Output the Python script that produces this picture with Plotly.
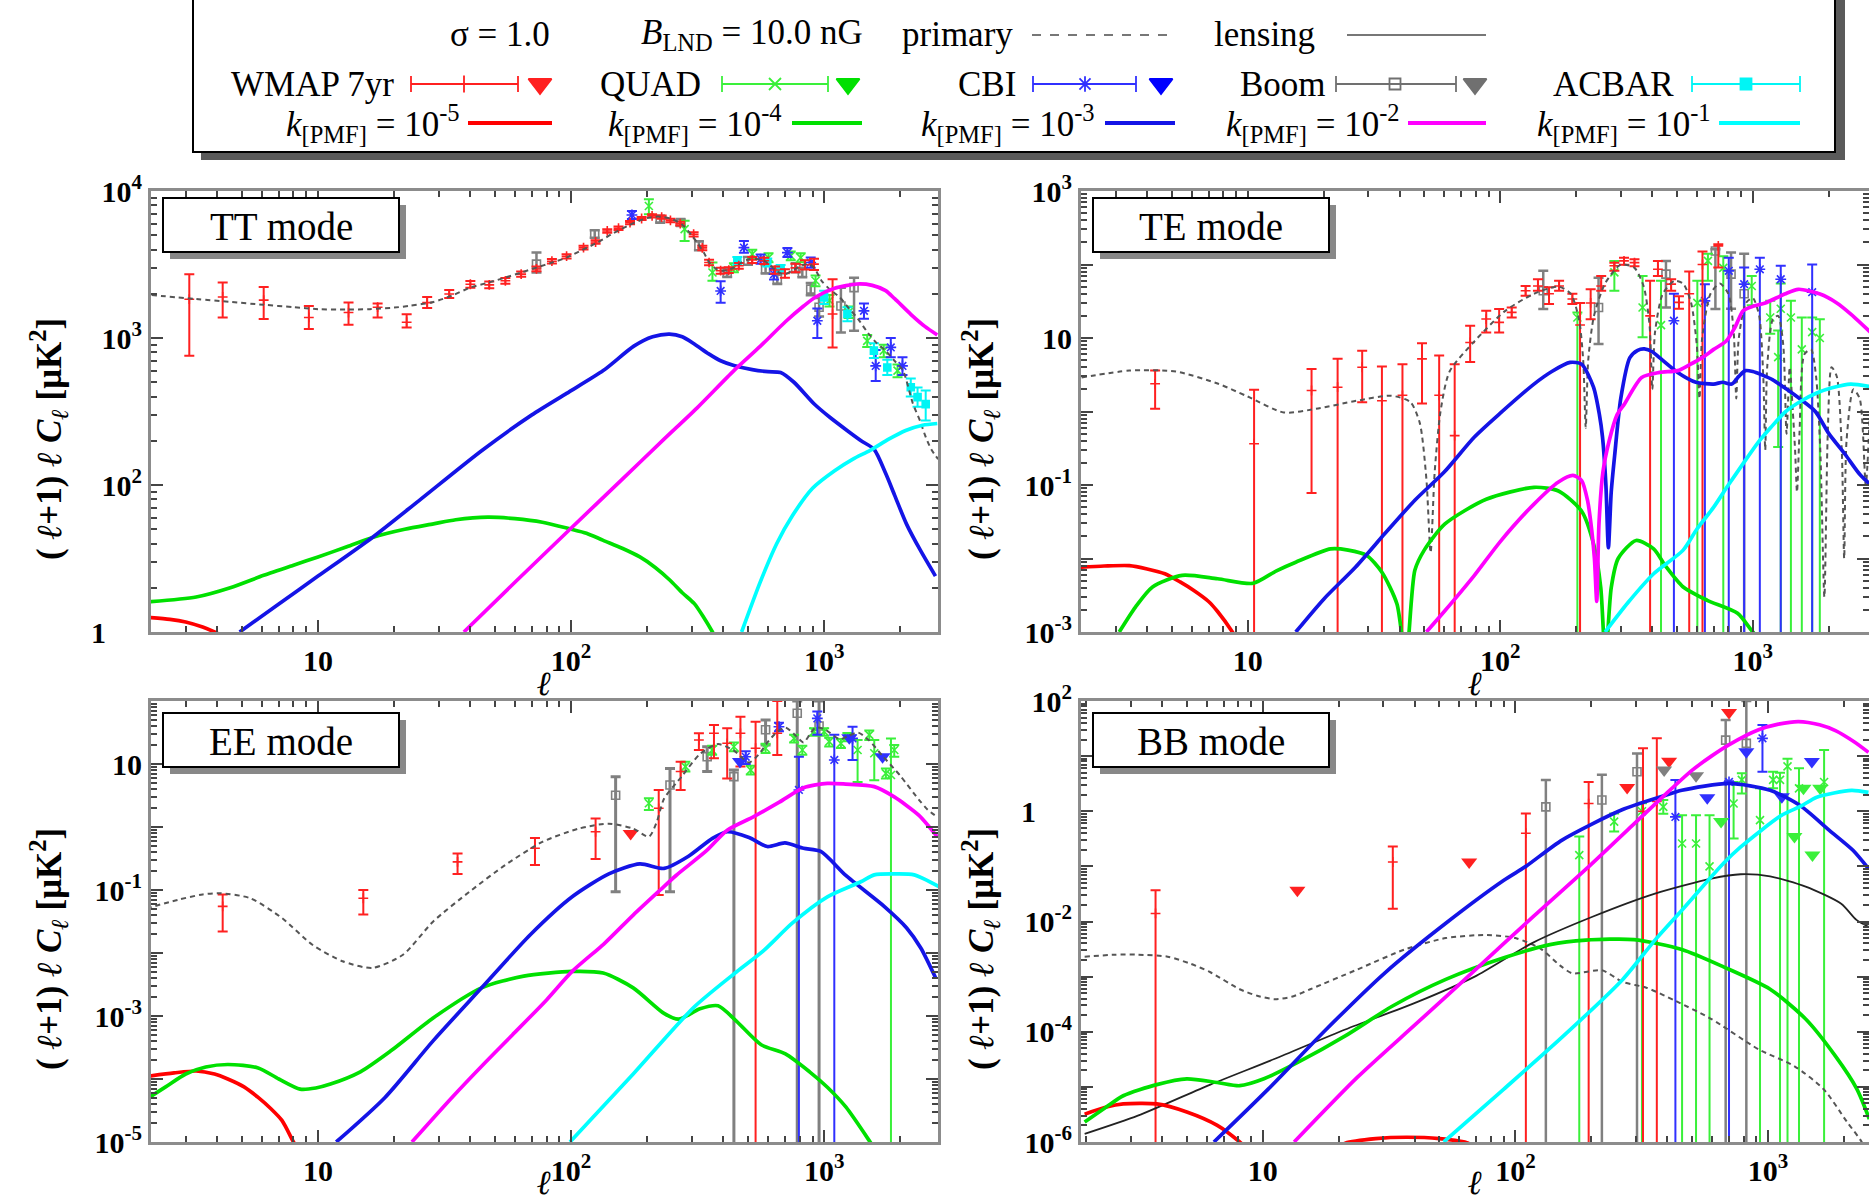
import plotly.graph_objects as go

W, H = 1869, 1201
SERIF = "Liberation Serif, Times New Roman, serif"

# ---------------------------------------------------------------- colours
C_K5, C_K4, C_K3, C_K2, C_K1 = "#ff0000", "#00e000", "#1414e6", "#ff00ff", "#00ffff"
C_WMAP, C_QUAD, C_CBI, C_BOOM, C_ACBAR = "#ff2020", "#3af03a", "#3030ff", "#808080", "#00f5f5"
C_PRIMARY, C_LENS = "#555555", "#222222"

# ================================================================ TT mode
TT_PRIMARY = [(2.2, 1960), (3.3, 1840), (4.5, 1760), (6.1, 1683), (8, 1620), (10, 1571),
              (13, 1560), (16, 1571), (20, 1610), (23, 1655), (28.6, 1760), (34, 1950),
              (40, 2205), (47, 2380), (55, 2577), (64, 2800), (73, 3013), (84, 3260),
              (96, 3523), (110, 3950), (127, 4456), (145, 5100), (167, 5780), (185, 6250),
              (203, 6590), (220, 6700), (233, 6650), (250, 6450), (275, 5900), (300, 5000),
              (315, 4456), (335, 3800), (352, 3258), (375, 2950), (394, 2863), (415, 2900),
              (440, 3013), (470, 3250), (505, 3437), (540, 3450), (580, 3350), (615, 3100),
              (647, 2863), (675, 2750), (703, 2720), (740, 2850), (785, 3013), (830, 3150),
              (876, 3180), (920, 2950), (977, 2450), (1050, 2150), (1153, 1890), (1250, 1600),
              (1361, 1350), (1480, 1100), (1607, 930), (1750, 820), (1897, 700), (2050, 600),
              (2240, 360), (2400, 270), (2500, 220), (2650, 175), (2820, 150)]
TT_K5 = [(2.1, 12.6), (2.6, 12.2), (3.0, 11.7), (3.5, 10.8), (3.9, 10), (4.4, 9.0)]
TT_K4 = [(2.1, 16), (3.3, 17.3), (4.5, 20), (6.1, 24.3), (8, 28.5), (10, 32.4), (13, 38),
         (16.4, 44), (22, 50), (28.6, 54.4), (35, 58), (46.9, 60.4), (60, 59), (77, 55.8),
         (99, 50.3), (115, 47), (134, 42), (160, 37), (187, 32.4), (215, 27.5), (246, 22.5),
         (275, 18.5), (307, 15.6), (335, 12.5), (362, 10), (380, 8.5)]
TT_K3 = [(4.9, 10), (7, 15.5), (10, 24), (16.4, 44), (25, 78), (44.3, 171), (70, 300),
         (96, 420), (134, 600), (177, 880), (210, 1020), (245, 1064), (275, 1020), (307, 910),
         (350, 780), (390, 700), (440, 650), (520, 610), (600, 590), (673, 583), (760, 500),
         (912, 357), (1050, 290), (1236, 234), (1400, 200), (1575, 175), (1750, 120),
         (1900, 85), (2119, 54), (2400, 36), (2754, 24)]
TT_K2 = [(37.7, 10), (60, 21.8), (99, 50), (158, 108), (233, 205), (315, 335), (440, 600),
         (560, 880), (703, 1290), (830, 1650), (926, 1900), (1100, 2180), (1352, 2330),
         (1550, 2280), (1750, 2100), (1900, 1850), (2200, 1450), (2500, 1200), (2800, 1050)]
TT_K1 = [(472, 10), (560, 22), (650, 40), (750, 62), (900, 95), (1100, 125), (1300, 150),
         (1520, 172), (1800, 205), (2100, 235), (2450, 255), (2800, 262)]

# (ell, value, lower, upper)
TT_WMAP = [(3.1, 1836, 757, 2716), (4.2, 1900, 1380, 2384), (6.1, 1810, 1345, 2225),
           (9.2, 1380, 1150, 1650), (13.2, 1490, 1230, 1745), (17.2, 1620, 1380, 1720),
           (22.4, 1280, 1180, 1450), (27, 1740, 1600, 1900), (33, 1990, 1870, 2120),
           (40, 2320, 2200, 2440), (47.5, 2300, 2180, 2420), (55, 2450, 2340, 2560),
           (63.5, 2720, 2610, 2830), (73, 2950, 2840, 3060), (84, 3330, 3210, 3450),
           (96, 3600, 3480, 3720), (112, 4120, 4000, 4240), (125, 4500, 4370, 4630),
           (139, 5350, 5200, 5500), (154, 5580, 5430, 5730), (171, 6100, 5950, 6250),
           (190, 6500, 6340, 6660), (209, 6770, 6600, 6940), (228, 6650, 6480, 6820),
           (247, 6310, 6140, 6480), (270, 6000, 5830, 6170), (305, 5080, 4910, 5250),
           (330, 4100, 3950, 4250), (351, 3260, 3120, 3400), (390, 2870, 2740, 3000),
           (420, 2900, 2770, 3030), (460, 3100, 2960, 3240), (520, 3400, 3240, 3560),
           (580, 3350, 3190, 3510), (640, 2900, 2740, 3060), (700, 2750, 2570, 2930),
           (770, 3000, 2800, 3200), (840, 3150, 2920, 3380), (912, 3180, 2900, 3460),
           (1080, 1455, 863, 2510)]
TT_BOOM = [(73, 3180, 2785, 3810), (124, 5100, 4800, 5400), (225, 6430, 6100, 6750),
           (271, 6100, 5800, 6400), (320, 4240, 3950, 4550), (414, 2790, 2600, 2990),
           (500, 3350, 3150, 3560), (587, 2940, 2750, 3140), (653, 2510, 2330, 2700),
           (772, 3010, 2800, 3230), (820, 2790, 2590, 3000), (885, 2150, 1950, 2370),
           (955, 1620, 1400, 1870), (1165, 1650, 1090, 2200), (1313, 2200, 1120, 2570)]
TT_QUAD = [(203, 7900, 6950, 8790), (281, 5500, 4570, 6270), (362, 2790, 2450, 3260),
           (440, 3010, 2800, 3230), (520, 3720, 3470, 3980), (603, 3520, 3280, 3770),
           (738, 3620, 3380, 3870), (808, 3520, 3280, 3770), (925, 2450, 2250, 2660),
           (1050, 1800, 1640, 1960), (1250, 1500, 1370, 1640), (1480, 955, 870, 1050),
           (1720, 820, 740, 900), (1950, 600, 540, 660)]
TT_CBI = [(174, 6870, 6450, 7300), (390, 2090, 1740, 2430), (482, 4120, 3800, 4570),
          (561, 3440, 3200, 3700), (634, 2720, 2500, 2950), (716, 3810, 3550, 4100),
          (885, 3260, 3000, 3530), (940, 1310, 1000, 1590), (1437, 1530, 1350, 1720),
          (1599, 646, 510, 830), (1834, 863, 740, 1000), (2040, 646, 560, 740)]
TT_ACBAR = [(454, 3350, 3150, 3560), (596, 3260, 3060, 3470), (673, 2940, 2750, 3140),
            (1000, 1890, 1700, 2100), (1236, 1455, 1300, 1620), (1573, 820, 730, 920),
            (1777, 630, 560, 710), (2200, 462, 400, 530), (2340, 396, 340, 460),
            (2520, 355, 275, 440)]

# ================================================================ TE mode (|C_l|)
TE_PRIMARY = [(2.2, 2.9), (3.4, 3.6), (5.2, 3.5), (7.6, 2.4), (10, 1.6), (13.9, 0.97),
              (19, 1.1), (27, 1.4), (37, 1.64), (44, 1.35), (48, 0.7), (51, 0.12),
              (53, 0.012), (55, 0.15), (58, 1.0), (63, 3.5), (79, 9), (104, 23), (136, 40),
              (170, 50), (190, 40), (205, 18), (213, 5), (218, 0.6), (223, 5), (235, 20),
              (260, 55), (300, 100), (340, 90), (370, 50), (390, 15), (400, 2), (410, 12),
              (440, 40), (490, 60), (530, 55), (570, 30), (600, 8), (615, 1.5), (630, 10),
              (680, 40), (740, 55), (800, 40), (840, 12), (860, 1.5), (880, 10), (940, 30),
              (1000, 35), (1060, 20), (1100, 3), (1120, 0.3), (1140, 4), (1200, 18),
              (1260, 20), (1320, 8), (1360, 0.5), (1400, 4), (1440, 1.0), (1470, 0.3),
              (1496, 0.08), (1530, 0.5), (1600, 6), (1700, 7), (1780, 3), (1850, 0.3),
              (1920, 0.003), (1980, 0.5), (2050, 4), (2150, 3), (2250, 0.3), (2300, 0.01),
              (2350, 0.4), (2500, 2), (2650, 1.5), (2800, 0.1), (2900, 0.8)]
TE_K5 = [(2.15, 0.0076), (2.7, 0.0079), (3.4, 0.008), (4.0, 0.0072), (4.7, 0.0062),
         (5.4, 0.0048), (6.1, 0.0037), (7.0, 0.0026), (7.6, 0.0019), (8.7, 0.001), (9.5, 0.0006)]
TE_K4 = [(3.1, 0.001), (3.6, 0.0022), (4.2, 0.0041), (5.5, 0.0059), (7.6, 0.0053),
         (10.5, 0.0046), (13, 0.0068), (15.5, 0.0089), (21.3, 0.0135), (25, 0.013),
         (29.6, 0.011), (34, 0.0065), (39, 0.0024), (42.3, 0.0004), (45.9, 0.0069),
         (50, 0.013), (60.4, 0.0295), (88, 0.064), (136, 0.093), (170, 0.083), (210, 0.044),
         (235, 0.015), (250, 0.004), (261, 0.0004), (275, 0.004), (293, 0.01), (345, 0.0176),
         (405, 0.0135), (450, 0.008), (530, 0.0041), (660, 0.0027), (870, 0.0018),
         (1000, 0.001), (1100, 0.0007)]
TE_K3 = [(15.5, 0.001), (20, 0.0028), (26.7, 0.0076), (35, 0.022), (45.9, 0.062), (60, 0.15),
         (79, 0.45), (100, 0.95), (136, 2.36), (160, 3.5), (189, 4.65), (210, 4.4),
         (234, 2.14), (247, 0.9), (254, 0.45), (262, 0.1), (268, 0.014), (275, 0.08),
         (284, 0.26), (300, 1.5), (326, 5.4), (350, 6.8), (372, 7.1), (400, 6.5), (427, 5.4),
         (504, 3.4), (595, 2.5), (700, 2.36), (760, 2.5), (825, 2.36), (880, 3.0), (935, 3.6),
         (1000, 3.5), (1075, 3.2), (1200, 2.7), (1337, 2.1), (1550, 1.45), (1768, 1.0),
         (2000, 0.5), (2322, 0.26), (2650, 0.14), (3000, 0.093)]
TE_K2 = [(51, 0.001), (60, 0.0019), (79, 0.0059), (100, 0.017), (136, 0.055), (170, 0.11),
         (194, 0.135), (210, 0.115), (222, 0.06), (230, 0.025), (236, 0.01), (241, 0.0026),
         (246, 0.03), (255, 0.15), (270, 0.4), (290, 0.9), (310, 1.26), (363, 2.9),
         (427, 3.4), (504, 3.6), (560, 4.3), (630, 5.4), (700, 7), (785, 9.1), (850, 14),
         (915, 23.5), (1000, 27), (1120, 30), (1337, 39.6), (1514, 46), (1845, 39.6),
         (2150, 30), (2450, 21), (3000, 11)]
TE_K1 = [(260, 0.001), (320, 0.0025), (405, 0.0062), (530, 0.013), (600, 0.025), (700, 0.05),
         (800, 0.1), (915, 0.195), (1050, 0.38), (1180, 0.61), (1350, 1.0), (1560, 1.4),
         (1800, 1.8), (2060, 2.1), (2440, 2.36), (3000, 2.14)]

TE_WMAP = [(4.3, 2.38, 1.09, 3.6), (10.6, 0.364, 1e-9, 1.97), (17.9, 1.93, 0.078, 3.8),
           (22.7, 2.14, 1e-9, 5.2), (28.4, 4.0, 1.34, 6.7), (34, 1.4, 1e-9, 4.1),
           (41, 1.66, 1e-9, 4.4), (49, 5.2, 1.28, 8.5), (57.3, 1.66, 1e-9, 5.8),
           (66, 0.47, 1e-9, 4.4), (76, 8.7, 4.7, 14.7), (88, 18.1, 11.9, 23.5),
           (99, 16.3, 11.9, 24.8), (111, 22.3, 19, 26), (126, 44, 37.6, 51), (141, 51, 44, 63),
           (156, 40, 29, 49), (171, 51, 44, 60), (193, 34, 29, 40), (207, 15, 1e-9, 30),
           (228, 30, 18, 46), (251, 51, 44, 70), (283, 96, 82, 106), (309, 112, 99, 124),
           (340, 106, 95, 118), (392, 20, 1e-9, 60), (421, 86, 70, 112), (475, 54, 44, 63),
           (510, 30.5, 25, 37), (560, 40, 1e-9, 80), (632, 100, 1e-9, 150),
           (730, 179, 91, 189)]
TE_BOOM = [(148, 44, 24.8, 82), (245, 26, 8.3, 66), (453, 74, 26, 112), (711, 153, 24.8, 161),
           (820, 74, 25, 146), (924, 40, 1e-9, 140)]
TE_QUAD = [(202, 19, 1e-9, 22.3), (283, 78, 44, 112), (366, 26, 10.2, 70), (433, 15, 1e-9, 60),
           (603, 30, 1e-9, 60), (664, 112, 60, 140), (764, 90, 1e-9, 130), (990, 51, 28, 70),
           (1172, 19, 11.4, 32), (1260, 5.5, 0.33, 12.6), (1290, 25, 1e-9, 55),
           (1415, 19, 1e-9, 32), (1563, 7, 1e-9, 19), (1718, 12, 1e-9, 19),
           (1842, 10, 1e-9, 18)]
TE_CBI = [(487, 17.2, 1e-9, 40), (646, 32, 1e-9, 54), (803, 82, 1e-9, 124),
          (924, 54, 1e-9, 91), (1066, 86, 1e-9, 124), (1290, 63, 1e-9, 96),
          (1718, 42, 1e-9, 100)]

# ================================================================ EE mode
EE_PRIMARY = [(2.1, 0.051), (2.8, 0.07), (3.5, 0.085), (4.1, 0.089), (5.4, 0.074),
              (7.2, 0.036), (9.5, 0.0135), (12.5, 0.0074), (16.4, 0.0058), (21.6, 0.0093),
              (28.6, 0.032), (39.7, 0.094), (55, 0.25), (77, 0.58), (107, 0.94), (141, 1.13),
              (176, 0.94), (203, 0.7), (218, 1.2), (233, 2.8), (275, 6.5), (323, 14.4),
              (381, 20.7), (440, 16.3), (505, 10.6), (550, 14), (597, 22), (650, 32), (703, 38),
              (760, 30), (829, 22), (880, 30), (925, 38), (1000, 36), (1153, 24.8), (1250, 28),
              (1361, 31.6), (1500, 24), (1700, 13.5), (2000, 6.5), (2370, 2.7), (2560, 1.9),
              (2760, 1.5)]
EE_K5 = [(2.1, 1.1e-4), (2.7, 1.25e-4), (3.3, 1.34e-4), (3.9, 1.2e-4), (4.4, 1e-4),
         (5.1, 7.5e-5), (5.8, 5.1e-5), (6.5, 3.4e-5), (7.2, 2.2e-5), (8.0, 1e-5), (8.6, 6e-6)]
EE_K4 = [(2.1, 4.8e-5), (2.5, 7.5e-5), (3.0, 1.2e-4), (3.6, 1.55e-4), (4.4, 1.7e-4),
         (5.8, 1.5e-4), (7, 1.0e-4), (8.5, 6.9e-5), (9.8, 7.2e-5), (11.2, 8.3e-5),
         (14.7, 1.3e-4), (19.4, 2.8e-4), (28.6, 9.4e-4), (44.3, 2.8e-3), (65, 4.3e-3),
         (101, 5.1e-3), (134, 4.8e-3), (176, 2.8e-3), (233, 1.1e-3), (266, 8.9e-4),
         (323, 1.3e-3), (381, 1.45e-3), (450, 8.3e-4), (564, 3.5e-4), (703, 2.5e-4),
         (876, 1.3e-4), (1030, 7.4e-5), (1218, 3.6e-5), (1520, 1e-5), (1700, 5e-6)]
EE_K3 = [(11.8, 1e-5), (18.4, 5.1e-5), (28.6, 4.1e-4), (44.3, 2.8e-3), (69, 0.0195),
         (101, 0.078), (141, 0.18), (187, 0.26), (233, 0.22), (290, 0.34), (362, 0.66),
         (414, 0.84), (505, 0.68), (596, 0.49), (700, 0.56), (829, 0.46), (970, 0.41),
         (1218, 0.17), (1726, 0.055), (2119, 0.025), (2410, 0.012), (2760, 0.004)]
EE_K2 = [(23.5, 1e-5), (33.7, 5e-5), (45, 1.7e-4), (58.6, 5e-4), (80, 1.8e-3), (101, 5.1e-3),
         (135, 0.014), (176, 0.04), (225, 0.1), (260, 0.17), (343, 0.42), (414, 0.89),
         (527, 1.46), (665, 2.48), (829, 4.2), (1030, 4.93), (1218, 4.8), (1578, 4.37),
         (1893, 3.0), (2370, 1.53), (2800, 0.7)]
EE_K1 = [(99, 1e-5), (176, 1.2e-4), (307, 1.4e-3), (450, 5e-3), (578, 0.011), (750, 0.03),
         (1030, 0.078), (1396, 0.135), (1578, 0.174), (1900, 0.18), (2270, 0.174),
         (2884, 0.11)]

EE_WMAP = [(4.2, 0.055, 0.022, 0.085), (15.1, 0.074, 0.041, 0.1), (35.6, 0.28, 0.18, 0.38),
           (72, 0.46, 0.25, 0.67), (125, 0.84, 0.31, 1.37), (222, 1.98, 0.083, 3.87),
           (271, 7.6, 3.87, 10.9), (320, 24, 16.7, 30.7), (367, 30.7, 12.3, 41.7),
           (414, 21.3, 5.9, 36.8), (467, 30.7, 9.1, 56), (536, 17.8, 1e-9, 47),
           (653, 30.7, 13.9, 100)]
EE_WMAP_UL = [(172, 0.79)]
EE_BOOM = [(150, 3.2, 0.094, 6.3), (246, 4.64, 0.094, 8.5), (345, 13, 7.6, 18.8),
           (440, 6.3, 1e-9, 8.0), (587, 35, 20, 50), (783, 64, 1e-9, 100), (955, 40, 1e-9, 100)]
EE_QUAD = [(203, 2.38, 1.86, 2.85), (283, 9.1, 7.6, 10.9), (361, 16.7, 14, 19.5),
           (440, 18.8, 16, 22), (513, 8.0, 6.8, 9.4), (587, 17.8, 15, 21), (761, 25.5, 22, 29),
           (820, 16.7, 14, 19.5), (912, 32.6, 28, 37), (1000, 32.6, 28, 37),
           (1047, 22.6, 19, 26), (1165, 21.3, 18, 25), (1236, 27, 23, 31),
           (1356, 16.7, 5.2, 24), (1508, 29, 24, 34), (1578, 14.8, 5.5, 24),
           (1754, 7.1, 5.9, 8.5), (1837, 6.7, 1e-9, 25.5), (1893, 16.7, 13, 20)]
EE_CBI = [(490, 13, 10, 16), (663, 39, 33, 45), (795, 3.87, 1e-9, 13), (940, 53, 29, 68),
          (1097, 11.6, 1e-9, 29), (1295, 25.5, 11.6, 39)]
EE_CBI_UL = [(465, 11), (1257, 26), (1702, 13)]

# ================================================================ BB mode
BB_PRIMARY = [(1.97, 0.0023), (2.6, 0.0025), (3.2, 0.0025), (4.2, 0.0023), (5.2, 0.0017),
              (6.2, 0.0012), (8.1, 5.9e-4), (9.5, 4.5e-4), (11.1, 3.9e-4), (13, 4.3e-4),
              (15.4, 5.9e-4), (23.7, 1.35e-3), (36.4, 3.1e-3), (53, 5e-3), (77, 5.7e-3),
              (100, 5.0e-3), (126, 3.2e-3), (150, 1.6e-3), (168, 1.15e-3), (220, 1.3e-3),
              (266, 8.0e-4), (330, 6.3e-4), (432, 3.6e-4), (597, 1.7e-4), (918, 4.8e-5),
              (1268, 2.4e-5), (1660, 9.1e-6), (2057, 2.3e-6), (2350, 1e-6), (2500, 5e-7)]
BB_LENSING = [(1.97, 1.4e-6), (3.2, 3e-6), (6.2, 1.1e-5), (11.1, 3.2e-5), (21.2, 1.1e-4),
              (40.5, 3.4e-4), (69, 1.0e-3), (117, 4.1e-3), (203, 0.0123), (357, 0.032),
              (597, 0.06), (780, 0.072), (1020, 0.066), (1410, 0.043), (1950, 0.021),
              (2240, 0.0107), (2500, 0.008)]
BB_K5 = [(1.97, 3.2e-6), (2.4, 4.3e-6), (2.8, 4.9e-6), (3.8, 4.9e-6), (5.0, 3.5e-6),
         (6.6, 2e-6), (8.1, 1e-6), (8.8, 7e-7), (None, None),
         (19, 7e-7), (21.2, 0.95e-6), (28, 1.15e-6), (37, 1.22e-6), (50, 1.15e-6),
         (65, 0.95e-6), (70, 7e-7)]
BB_K4 = [(1.97, 2.3e-6), (2.4, 4.3e-6), (2.8, 6.9e-6), (3.8, 1.1e-5), (5.0, 1.4e-5),
         (6.6, 1.2e-5), (8.1, 1.05e-5), (10.1, 1.4e-5), (13.8, 2.8e-5), (21.2, 8.4e-5),
         (32.5, 2.9e-4), (53, 8.9e-4), (90, 2.2e-3), (137, 3.8e-3), (190, 4.6e-3),
         (295, 4.7e-3), (456, 3.1e-3), (667, 1.5e-3), (1020, 5.9e-4), (1410, 1.7e-4),
         (1850, 3.6e-5), (2250, 9.1e-6), (2520, 2.6e-6)]
BB_K3 = [(6.4, 1e-6), (10.5, 9.1e-6), (17.8, 1.1e-4), (30.6, 1.2e-3), (53, 9.3e-3),
         (90, 0.056), (110, 0.1), (153, 0.3), (263, 1.05), (387, 1.9), (456, 2.4), (701, 3.2),
         (1020, 2.4), (1340, 1.27), (1750, 0.45), (2170, 0.196), (2500, 0.091)]
BB_K2 = [(13.3, 1e-6), (23.7, 1.5e-5), (40.5, 1.4e-4), (69, 1.3e-3), (117, 0.012),
         (200, 0.11), (290, 0.55), (387, 1.9), (500, 5.5), (597, 10), (700, 16), (918, 30),
         (1100, 38), (1320, 42.4), (1600, 37), (1850, 29), (2200, 18), (2500, 11.7)]
BB_K1 = [(52, 1e-6), (90, 9.1e-6), (155, 8.4e-5), (266, 8.9e-4), (357, 4.6e-3), (456, 0.016),
         (667, 0.114), (780, 0.225), (1130, 0.84), (1355, 1.25), (1560, 1.8), (2140, 2.4),
         (2500, 2.2)]

BB_WMAP = [(3.76, 0.014, 1e-12, 0.037), (32.7, 0.12, 0.017, 0.23), (110, 0.4, 1e-12, 0.91),
           (195, 1.38, 1e-12, 3.4), (320, 1.0, 1e-12, 13.9), (363, 1.5, 1e-12, 21)]
BB_WMAP_UL = [(13.7, 0.037), (65.6, 0.12), (277, 2.7), (406, 8.1), (701, 62)]
BB_BOOM = [(132, 1.2, 1e-12, 3.7), (220, 1.6, 1e-12, 4.6), (303, 5.2, 1e-12, 11.2),
           (680, 19.5, 1e-12, 45), (821, 17, 1e-12, 100)]
BB_BOOM_UL = [(388, 5.6), (519, 4.4)]
BB_CBI = [(430, 0.79, 1e-12, 3.7), (701, 3.4, 1e-12, 3.5), (951, 21, 5.2, 36.7)]
BB_CBI_UL = [(575, 1.76), (821, 12), (1135, 1.84), (1492, 8.0)]
BB_QUAD = [(179, 0.16, 1e-12, 0.35), (246, 0.65, 0.43, 0.91), (317, 1.0, 1e-12, 1.4),
           (385, 1.2, 0.9, 1.6), (457, 0.26, 1e-12, 0.85), (519, 0.26, 1e-12, 0.85),
           (587, 0.1, 1e-12, 0.85), (731, 1.38, 0.32, 3.4), (788, 3.7, 2.1, 4.9),
           (930, 0.69, 1e-12, 2.6), (1048, 3.7, 2.6, 5.2), (1116, 3.7, 1e-12, 5.0),
           (1195, 6.5, 1e-12, 9.0), (1327, 2.6, 1e-12, 6.0), (1668, 3.4, 1e-12, 12.9)]
BB_QUAD_UL = [(652, 0.65), (1273, 0.35), (1382, 2.6), (1500, 0.16), (1610, 2.6)]

# ---------------------------------------------------------------- axis tick labels
ONE = "1\u2002\u2002\u2009"  # the unit label sits further out from the axis
X_TICKS = [10, 100, 1000]
X_LABELS = ["10", "10<sup>2</sup>", "10<sup>3</sup>"]
TT_YTICKS = [10, 100, 1000, 10000]
TT_YLABELS = [ONE, "10<sup>2</sup>", "10<sup>3</sup>", "10<sup>4</sup>"]
TE_YTICKS = [1e-3, 1e-2, 1e-1, 1, 10, 100, 1000]
TE_YLABELS = ["10<sup>-3</sup>", "", "10<sup>-1</sup>", "", "10", "", "10<sup>3</sup>"]
EE_YTICKS = [1e-5, 1e-4, 1e-3, 1e-2, 1e-1, 1, 10, 100]
EE_YLABELS = ["10<sup>-5</sup>", "", "10<sup>-3</sup>", "", "10<sup>-1</sup>", "", "10", ""]
BB_YTICKS = [1e-6, 1e-5, 1e-4, 1e-3, 1e-2, 1e-1, 1, 10, 100]
BB_YLABELS = ["10<sup>-6</sup>", "", "10<sup>-4</sup>", "", "10<sup>-2</sup>", "", ONE, "",
              "10<sup>2</sup>"]

# ================================================================ figure
fig = go.Figure()


def px(x):
    return x / W


def py(y):
    return 1 - y / H


def add_curve(pts, color, width, xa, ya, dash="solid"):
    ell = [p[0] for p in pts]
    val = [p[1] for p in pts]
    fig.add_trace(go.Scatter(
        x=ell, y=val, mode="lines", xaxis=xa, yaxis=ya, showlegend=False,
        hoverinfo="skip", connectgaps=False,
        line=dict(color=color, width=width, dash=dash, shape="spline", smoothing=0.7)))


def add_points(rows, color, symbol, size, xa, ya, bar=2.0):
    ell = [r[0] for r in rows]
    val = [r[1] for r in rows]
    minus = [r[1] - r[2] for r in rows]
    plus = [r[3] - r[1] for r in rows]
    fig.add_trace(go.Scatter(
        x=ell, y=val, mode="markers", xaxis=xa, yaxis=ya, showlegend=False,
        hoverinfo="skip",
        marker=dict(symbol=symbol, size=size, color=color, line=dict(color=color, width=1.6)),
        error_y=dict(type="data", symmetric=False, array=plus, arrayminus=minus,
                     color=color, thickness=bar, width=5)))


def add_limits(rows, color, xa, ya):
    fig.add_trace(go.Scatter(
        x=[r[0] for r in rows], y=[r[1] for r in rows], mode="markers",
        xaxis=xa, yaxis=ya, showlegend=False, hoverinfo="skip",
        marker=dict(symbol="triangle-down", size=14, color=color, line=dict(width=0))))


def add_models(xa, ya, k5, k4, k3, k2, k1):
    add_curve(k5, C_K5, 3.7, xa, ya)
    add_curve(k4, C_K4, 3.7, xa, ya)
    add_curve(k3, C_K3, 3.7, xa, ya)
    add_curve(k2, C_K2, 3.7, xa, ya)
    add_curve(k1, C_K1, 3.7, xa, ya)


# --- TT
add_points(TT_BOOM, C_BOOM, "square-open", 8, "x", "y", 2.5)
add_points(TT_QUAD, C_QUAD, "x-thin", 8, "x", "y")
add_points(TT_CBI, C_CBI, "asterisk", 9, "x", "y")
add_points(TT_ACBAR, C_ACBAR, "square", 7, "x", "y")
add_points(TT_WMAP, C_WMAP, "cross-thin", 7, "x", "y")
add_curve(TT_PRIMARY, C_PRIMARY, 2, "x", "y", dash="5px,4px")
add_models("x", "y", TT_K5, TT_K4, TT_K3, TT_K2, TT_K1)

# --- TE
add_points(TE_BOOM, C_BOOM, "square-open", 8, "x2", "y2", 2.5)
add_points(TE_QUAD, C_QUAD, "x-thin", 8, "x2", "y2")
add_points(TE_CBI, C_CBI, "asterisk", 9, "x2", "y2")
add_points(TE_WMAP, C_WMAP, "cross-thin", 7, "x2", "y2")
add_curve(TE_PRIMARY, C_PRIMARY, 2, "x2", "y2", dash="5px,4px")
add_models("x2", "y2", TE_K5, TE_K4, TE_K3, TE_K2, TE_K1)

# --- EE
add_points(EE_BOOM, C_BOOM, "square-open", 8, "x3", "y3", 3)
add_points(EE_QUAD, C_QUAD, "x-thin", 8, "x3", "y3")
add_points(EE_CBI, C_CBI, "asterisk", 9, "x3", "y3")
add_points(EE_WMAP, C_WMAP, "cross-thin", 7, "x3", "y3")
add_limits(EE_WMAP_UL, C_WMAP, "x3", "y3")
add_limits(EE_CBI_UL, C_CBI, "x3", "y3")
add_curve(EE_PRIMARY, C_PRIMARY, 2, "x3", "y3", dash="5px,4px")
add_models("x3", "y3", EE_K5, EE_K4, EE_K3, EE_K2, EE_K1)

# --- BB
add_points(BB_BOOM, C_BOOM, "square-open", 8, "x4", "y4", 2.5)
add_points(BB_QUAD, C_QUAD, "x-thin", 8, "x4", "y4")
add_points(BB_CBI, C_CBI, "asterisk", 9, "x4", "y4")
add_points(BB_WMAP, C_WMAP, "cross-thin", 7, "x4", "y4")
add_limits(BB_WMAP_UL, C_WMAP, "x4", "y4")
add_limits(BB_BOOM_UL, C_BOOM, "x4", "y4")
add_limits(BB_CBI_UL, C_CBI, "x4", "y4")
add_limits(BB_QUAD_UL, C_QUAD, "x4", "y4")
add_curve(BB_PRIMARY, C_PRIMARY, 2, "x4", "y4", dash="5px,4px")
add_curve(BB_LENSING, C_LENS, 1.8, "x4", "y4")
add_models("x4", "y4", BB_K5, BB_K4, BB_K3, BB_K2, BB_K1)

# ---------------------------------------------------------------- axes
X_MINOR = [m * 10 ** e for e in range(0, 4) for m in range(2, 10)]
TICKFONT = dict(family=SERIF, size=30, color="black")


def minor_ticks(lo, hi):
    return [m * 10.0 ** e for e in range(lo, hi) for m in range(2, 10)]


def axis_common():
    return dict(type="log", ticks="inside", ticklen=12, tickwidth=2, tickcolor="#444",
                mirror="allticks", showline=True, linecolor="#8c8c8c", linewidth=3,
                showgrid=False, zeroline=False, tickfont=TICKFONT, automargin=False)


def xaxis(domain, rng, anchor):
    d = axis_common()
    d.update(domain=domain, range=rng, anchor=anchor, tickmode="array", tickvals=X_TICKS,
             ticktext=["<b>%s</b>" % t for t in X_LABELS],
             minor=dict(tickmode="array", tickvals=X_MINOR, ticks="inside", ticklen=6,
                        tickwidth=1.5, tickcolor="#444"))
    return d


def yaxis(domain, rng, anchor, tv, tt, lo, hi):
    d = axis_common()
    d.update(domain=domain, range=rng, anchor=anchor, tickmode="array", tickvals=tv,
             ticktext=["<b>%s</b>" % t if t else "" for t in tt],
             minor=dict(tickmode="array", tickvals=minor_ticks(lo, hi), ticks="inside",
                        ticklen=6, tickwidth=1.5, tickcolor="#444"))
    return d


XL = [px(151), px(938)]
XR = [px(1081), 1.0]
YT = [py(632), py(191)]
YB = [py(1142), py(701)]

fig.update_layout(
    xaxis=xaxis(XL, [0.34, 3.45], "y"),
    yaxis=yaxis(YT, [1, 4], "x", TT_YTICKS, TT_YLABELS, 1, 4),
    xaxis2=xaxis(XR, [0.34, 3.46], "y2"),
    yaxis2=yaxis(YT, [-3, 3], "x2", TE_YTICKS, TE_YLABELS, -3, 3),
    xaxis3=xaxis(XL, [0.34, 3.45], "y3"),
    yaxis3=yaxis(YB, [-5, 2], "x3", EE_YTICKS, EE_YLABELS, -5, 2),
    xaxis4=xaxis(XR, [0.28, 3.40], "y4"),
    yaxis4=yaxis(YB, [-6, 2], "x4", BB_YTICKS, BB_YLABELS, -6, 2),
    # pixel-space overlay used for the legend keys
    xaxis5=dict(domain=[0, 1], range=[0, W], visible=False, anchor="y5", fixedrange=True,
                automargin=False),
    yaxis5=dict(domain=[0, 1], range=[H, 0], visible=False, anchor="x5", fixedrange=True,
                automargin=False),
)

# ---------------------------------------------------------------- legend keys
ROW1, ROW2, ROW3 = 35, 84, 123
KEY_MARKS = [
    (464, ROW2, "cross-thin", 12, C_WMAP), (540, ROW2, "triangle-down", 20, C_WMAP),
    (775, ROW2, "x-thin", 12, C_QUAD), (848, ROW2, "triangle-down", 20, "#00e000"),
    (1085, ROW2, "asterisk", 13, C_CBI), (1161, ROW2, "triangle-down", 20, "#0000ff"),
    (1395, ROW2, "square-open", 11, "#707070"), (1475, ROW2, "triangle-down", 20, "#707070"),
    (1746, ROW2, "square", 11, C_ACBAR),
]
for kx, ky, sym, sz, col in KEY_MARKS:
    fig.add_trace(go.Scatter(
        x=[kx], y=[ky], mode="markers", xaxis="x5", yaxis="y5", showlegend=False,
        hoverinfo="skip", cliponaxis=False,
        marker=dict(symbol=sym, size=sz, color=col, line=dict(color=col, width=1.8))))

shapes = []
# legend frame with drop shadow
shapes.append(dict(type="rect", xref="paper", yref="paper", x0=px(201), x1=px(1845),
                   y0=py(160), y1=1.02, fillcolor="#5a5a5a", line=dict(width=0), layer="below"))
shapes.append(dict(type="rect", xref="paper", yref="paper", x0=px(193), x1=px(1835),
                   y0=py(152), y1=1.02, fillcolor="white", line=dict(color="black", width=2),
                   layer="below"))


def hline(x0, x1, y, color, width, dash="solid"):
    shapes.append(dict(type="line", xref="paper", yref="paper", x0=px(x0), x1=px(x1),
                       y0=py(y), y1=py(y), line=dict(color=color, width=width, dash=dash),
                       layer="above"))


def errkey(x0, x1, y, color):
    hline(x0, x1, y, color, 1.8)
    for xc in (x0, x1):
        shapes.append(dict(type="line", xref="paper", yref="paper", x0=px(xc), x1=px(xc),
                           y0=py(y - 8), y1=py(y + 8), line=dict(color=color, width=1.8),
                           layer="above"))


hline(1032, 1167, ROW1, "#777777", 2, "dash")
hline(1347, 1486, ROW1, "#777777", 2)
errkey(411, 518, ROW2, C_WMAP)
errkey(722, 828, ROW2, C_QUAD)
errkey(1033, 1136, ROW2, C_CBI)
errkey(1336, 1456, ROW2, "#707070")
errkey(1692, 1800, ROW2, C_ACBAR)
hline(468, 552, ROW3, C_K5, 4)
hline(792, 862, ROW3, C_K4, 4)
hline(1105, 1175, ROW3, C_K3, 4)
hline(1408, 1486, ROW3, C_K2, 4)
hline(1719, 1800, ROW3, C_K1, 4)

annotations = []


def text(x, y, s, size=35, anchor="right", angle=0, yanchor="middle"):
    annotations.append(dict(x=px(x), y=py(y), xref="paper", yref="paper", text=s,
                            showarrow=False, xanchor=anchor, yanchor=yanchor, textangle=angle,
                            font=dict(family=SERIF, size=size, color="black")))


text(552, ROW1, "σ = 1.0")
text(865, ROW1, "<i>B</i><sub>LND</sub> = 10.0 nG")
text(1015, ROW1, "primary")
text(1317, ROW1, "lensing")
text(396, ROW2, "WMAP 7yr")
text(703, ROW2, "QUAD")
text(1018, ROW2, "CBI")
text(1328, ROW2, "Boom")
text(1676, ROW2, "ACBAR")
KPMF = "<i>k</i><sub>[PMF]</sub> = 10<sup>%s</sup>"
text(462, ROW3, KPMF % "-5")
text(784, ROW3, KPMF % "-4")
text(1097, ROW3, KPMF % "-3")
text(1402, ROW3, KPMF % "-2")
text(1713, ROW3, KPMF % "-1")

# panel name boxes
for (bx0, by0, name) in [(163, 198, "TT mode"), (1093, 198, "TE mode"),
                         (163, 713, "EE mode"), (1093, 713, "BB mode")]:
    bx1, by1 = bx0 + 236, by0 + 54
    shapes.append(dict(type="rect", xref="paper", yref="paper", x0=px(bx0 + 7), x1=px(bx1 + 7),
                       y0=py(by1 + 7), y1=py(by0 + 7), fillcolor="#6a6a6a",
                       line=dict(width=0), layer="above", opacity=0.8))
    shapes.append(dict(type="rect", xref="paper", yref="paper", x0=px(bx0), x1=px(bx1),
                       y0=py(by1), y1=py(by0), fillcolor="white",
                       line=dict(color="black", width=2), layer="above"))
    text((bx0 + bx1) / 2, (by0 + by1) / 2 + 1, name, size=39, anchor="center")

# axis titles
YTITLE = "<b>( <i>ℓ</i>+1) <i>ℓ</i> <i>C</i><sub><i>ℓ</i></sub> [μK<sup>2</sup>]</b>"
for (tx, ty) in [(48, 439), (980, 439), (48, 949), (980, 949)]:
    text(tx, ty, YTITLE, size=35, anchor="center", angle=-90)
for (tx, ty) in [(544, 683), (1475, 683), (544, 1182), (1475, 1182)]:
    text(tx, ty, "<b><i>ℓ</i></b>", size=34, anchor="center")

fig.update_layout(
    width=W, height=H, margin=dict(l=0, r=0, t=0, b=0, pad=0, autoexpand=False),
    paper_bgcolor="white", plot_bgcolor="rgba(0,0,0,0)",
    showlegend=False, shapes=shapes, annotations=annotations,
)

fig.write_html("out.html")
